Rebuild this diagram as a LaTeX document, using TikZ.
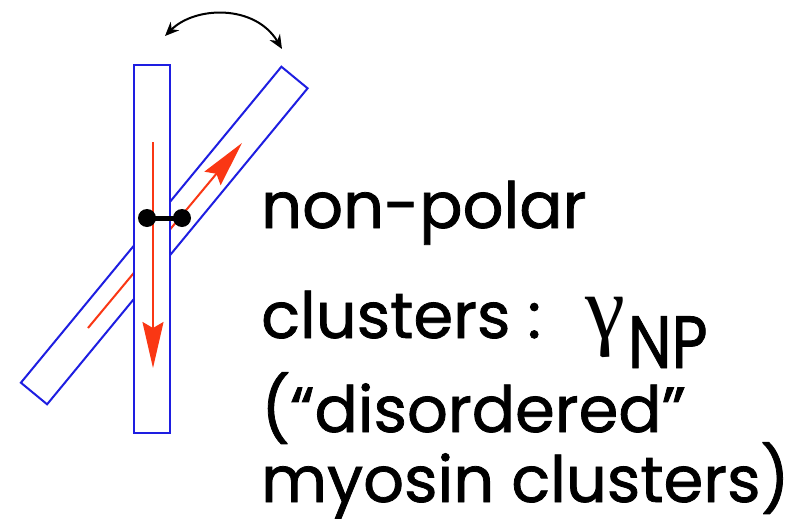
\documentclass[tikz,border=0pt]{standalone}
\usepackage{fontspec}
\setmainfont{Poppins}[FakeBold=1.2]
\newfontfamily\gk{Liberation Serif}
\usetikzlibrary{arrows.meta}
\definecolor{fblue}{RGB}{30,30,225}
\definecolor{fred}{RGB}{250,55,20}
\tikzset{
  rod/.style={draw=fblue, line width=2pt, fill=white},
  redarrow/.style={draw=fred, line width=2pt, -{Stealth[length=46pt,width=21pt,inset=6pt,fill=fred]}},
  swing/.style={draw=black, line width=2pt, {Stealth[length=14pt,width=12pt]}-{Stealth[length=14pt,width=12pt]}},
  lbl/.style={anchor=base west, inner sep=0pt, font=\fontsize{64}{64}\selectfont},
  bead/.style={circle, fill=black, inner sep=0pt, minimum size=18pt}
}
\begin{document}
\begin{tikzpicture}[x=1pt,y=-1pt]
\useasboundingbox (0,0) rectangle (811,525);
% tilted rod
\draw[rod] (281.4,66.7) -- (307.6,88.3) -- (47.1,404.3) -- (20.9,382.7) -- cycle;
\coordinate (ta) at (88,328);
\coordinate (tb) at (242,143);
\draw[redarrow] (ta) -- (tb);
% vertical rod
\draw[rod] (134,65) rectangle (170,433);
\coordinate (va) at (153,142);
\coordinate (vb) at (153,368);
\draw[redarrow] (va) -- (vb);
% dumbbell
\node[bead] (b1) at (147,218) {};
\node[bead] (b2) at (182,218) {};
\draw[line width=5pt] (b1.center) -- (b2.center);
% swing arrow
\coordinate (s1) at (165,36);
\coordinate (s2) at (282,49);
\draw[swing] (s1) .. controls (195,6) and (255,4) .. (s2);
% text
\node[lbl] (t1) at (261,228) {non-polar};
\node[lbl] (t2) at (261,338) {clusters :\hspace{44pt}{\gk\fontsize{90}{90}\selectfont γ}\hspace{3pt}\raisebox{-30pt}{\scalebox{0.84}[1]{\fontsize{74}{74}\selectfont NP}}};
\node[lbl] (t3) at (261,432) {(“disordered”};
\node[lbl] (t4) at (261,502) {myosin clusters)};
\end{tikzpicture}
\end{document}
